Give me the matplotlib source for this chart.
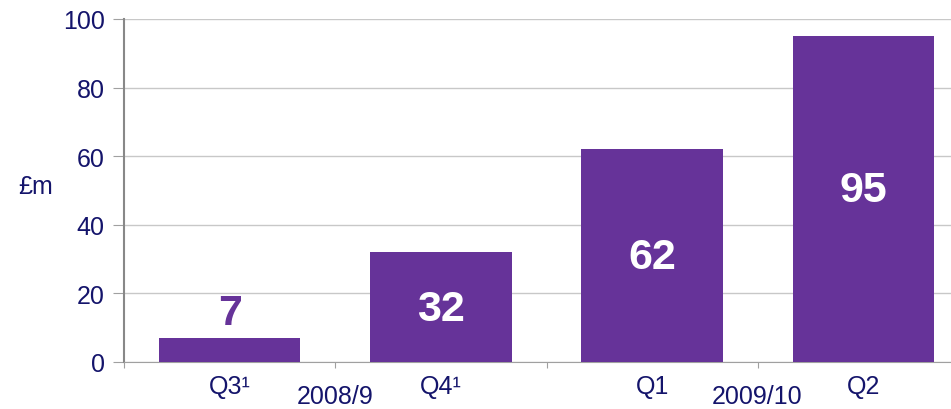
import matplotlib
matplotlib.use("Agg")
import matplotlib.pyplot as plt
import numpy as np

plt.rcParams['font.family'] = ['Liberation Sans', 'DejaVu Sans']

quarters = ["Q3¹", "Q4¹", "Q1", "Q2"]
values = [7, 32, 62, 95]
years = ["2008/9", "2009/10"]
yticks = [0, 20, 40, 60, 80, 100]

navy = "#14146b"
purple = "#663399"
grey = "#a0a0a0"

fig = plt.figure(figsize=(9.51, 4.10), dpi=100)
ax = fig.add_axes([124/951, 1-363/410, (969-124)/951, (363-20)/410])

x = np.arange(len(quarters))
ax.bar(x, values, width=0.67, color=purple, zorder=3)
ax.set_xlim(-0.5, len(quarters)-0.5)
ax.set_ylim(0, 100)
ax.set_yticks(yticks)
ax.set_yticklabels([str(t) for t in yticks], color=navy, fontsize=18)
ax.yaxis.grid(True, color="#c8c8c8", linewidth=1, zorder=0)
ax.tick_params(axis='y', length=8, color=grey, pad=6)

ax.set_xticks(np.arange(len(quarters)+1) - 0.5)
ax.set_xticklabels([])
ax.tick_params(axis='x', length=4, color=grey, direction='out')

for s in ["top", "right"]:
    ax.spines[s].set_visible(False)
ax.spines["left"].set_color("#888888")
ax.spines["left"].set_linewidth(1.5)
ax.spines["bottom"].set_color(grey)

for i, q in enumerate(quarters):
    ax.text(i, -3.5, q, ha='center', va='top', color=navy, fontsize=18)

for j, y in enumerate(years):
    fig.text((124 + (2*j + 1) * 211) / 951, 1/410, y, ha='center', va='bottom',
             color=navy, fontsize=18)

for i, v in enumerate(values):
    if v < 15:
        ax.text(i, v + 1.5, str(v), ha='center', va='bottom', color=purple,
                fontsize=31, fontweight='bold')
    else:
        yy = v / 2 - 0.5 if v < 90 else v / 2 + 2.5
        ax.text(i, yy, str(v), ha='center', va='center', color='white',
                fontsize=31, fontweight='bold')

fig.text(18/951, 1-187/410, "£m", color=navy, fontsize=18, va='center', ha='left')

fig.savefig("out.png", dpi=100)
